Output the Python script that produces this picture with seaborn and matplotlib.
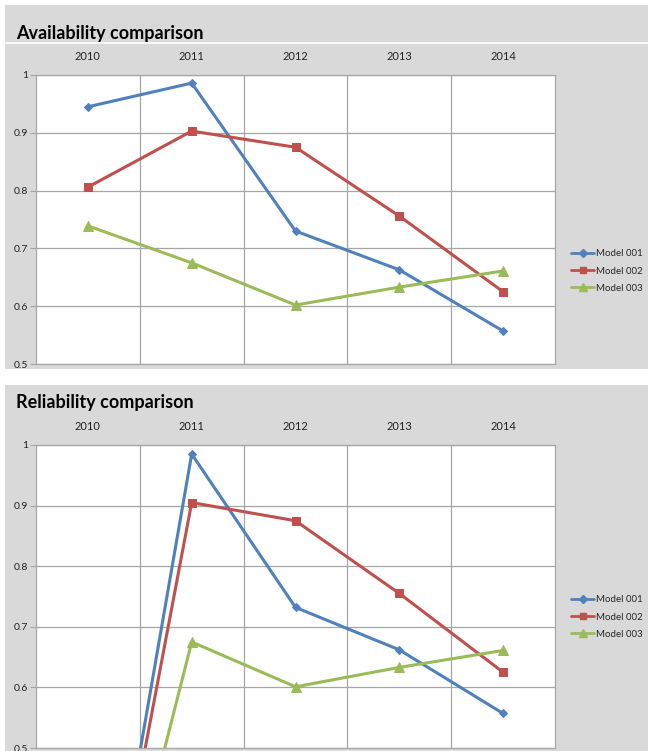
import matplotlib
matplotlib.use("Agg")
import matplotlib.pyplot as plt
from matplotlib.patches import Rectangle
from matplotlib.lines import Line2D
import pandas as pd
import seaborn as sns

years = ["2010", "2011", "2012", "2013", "2014"]
models = ["Model 001", "Model 002", "Model 003"]

availability_001 = [0.945, 0.986, 0.730, 0.663, 0.557]
availability_002 = [0.806, 0.903, 0.875, 0.756, 0.625]
availability_003 = [0.739, 0.675, 0.602, 0.633, 0.661]

reliability_001 = [0.0, 0.985, 0.732, 0.662, 0.557]
reliability_002 = [0.0, 0.905, 0.875, 0.755, 0.625]
reliability_003 = [0.0, 0.675, 0.601, 0.633, 0.661]

y_ticks = [0.5, 0.6, 0.7, 0.8, 0.9, 1.0]
y_tick_labels = ["0.5", "0.6", "0.7", "0.8", "0.9", "1"]

colors = {"Model 001": "#4F81BD", "Model 002": "#C0504D", "Model 003": "#9BBB59"}
markers = {"Model 001": "D", "Model 002": "s", "Model 003": "^"}
msizes = {"Model 001": 4.5, "Model 002": 5.8, "Model 003": 6.8}

sns.set_theme(style="white")
plt.rcParams["font.family"] = ["Lato", "DejaVu Sans"]

W, H = 648, 751
fig = plt.figure(figsize=(W / 100, H / 100), dpi=100, facecolor="white")

PANEL_GRAY = "#D9D9D9"
GRID_GRAY = "#A6A6A6"


def fx(px):
    return px / W


def fy(py):
    return 1 - py / H


# panel backgrounds, kept beneath the axes
fig.patches.append(Rectangle((fx(5), fy(369)), fx(643), (369 - 5) / H,
                             transform=fig.transFigure, facecolor=PANEL_GRAY,
                             edgecolor="none", zorder=-5))
fig.patches.append(Rectangle((fx(5), fy(751)), fx(643), (751 - 385) / H,
                             transform=fig.transFigure, facecolor=PANEL_GRAY,
                             edgecolor="none", zorder=-5))
fig.lines.append(Line2D([fx(5), 1.0], [fy(43), fy(43)], transform=fig.transFigure,
                        color="white", lw=1.2, zorder=-4))


def make_frame(series):
    rows = []
    for name, vals in zip(models, series):
        for i, v in enumerate(vals):
            rows.append({"pos": i, "value": v, "model": name})
    return pd.DataFrame(rows)


def draw_panel(rect, series, title, title_baseline, legend_y):
    ax = fig.add_axes(rect)
    ax.set_facecolor("white")
    df = make_frame(series)
    for name in models:
        sub = df[df["model"] == name]
        sns.lineplot(data=sub, x="pos", y="value", ax=ax, color=colors[name],
                     marker=markers[name], markersize=msizes[name],
                     markeredgecolor=colors[name], markerfacecolor=colors[name],
                     lw=2.2, label=name, legend=False, zorder=3)
    ax.set_xlim(-0.5, 4.5)
    ax.set_ylim(0.5, 1.0)
    ax.set_xlabel("")
    ax.set_ylabel("")
    ax.set_xticks(range(len(years)))
    ax.set_xticklabels(years)
    ax.xaxis.tick_top()
    ax.tick_params(axis="x", length=0, pad=9.5, labelsize=8, colors="#222222")
    ax.set_yticks(y_ticks)
    ax.set_yticklabels(y_tick_labels)
    ax.tick_params(axis="y", left=True, length=4.3, width=0.8, color=GRID_GRAY,
                   pad=1.5, labelsize=7.5, labelcolor="#222222")
    ax.yaxis.grid(True, color=GRID_GRAY, lw=0.9, zorder=1)
    for b in [0.5, 1.5, 2.5, 3.5]:
        ax.axvline(b, color=GRID_GRAY, lw=0.9, zorder=1)
    for s in ax.spines.values():
        s.set_visible(True)
        s.set_color(GRID_GRAY)
        s.set_linewidth(0.9)
    ax.set_axisbelow(True)

    fig.text(fx(16), fy(title_baseline), title, fontsize=13, fontweight="bold",
             va="baseline", ha="left", color="black")

    handles = [Line2D([0], [0], color=colors[m], lw=2.0, marker=markers[m],
                      markersize=msizes[m] * 0.85, markeredgecolor=colors[m])
               for m in models]
    fig.legend(handles, models, loc="center left",
               bbox_to_anchor=(fx(571), fy(legend_y)), frameon=False,
               fontsize=7, handlelength=2.4, handletextpad=0.15,
               labelspacing=0.85, borderaxespad=0, borderpad=0)
    return ax


draw_panel([fx(36), fy(364), (555 - 36) / W, (364 - 75) / H],
           [availability_001, availability_002, availability_003],
           "Availability comparison", 39, 271)
draw_panel([fx(36), fy(748), (555 - 36) / W, (748 - 445) / H],
           [reliability_001, reliability_002, reliability_003],
           "Reliability comparison", 408, 617)

fig.savefig("out.png", dpi=100, facecolor="white")
